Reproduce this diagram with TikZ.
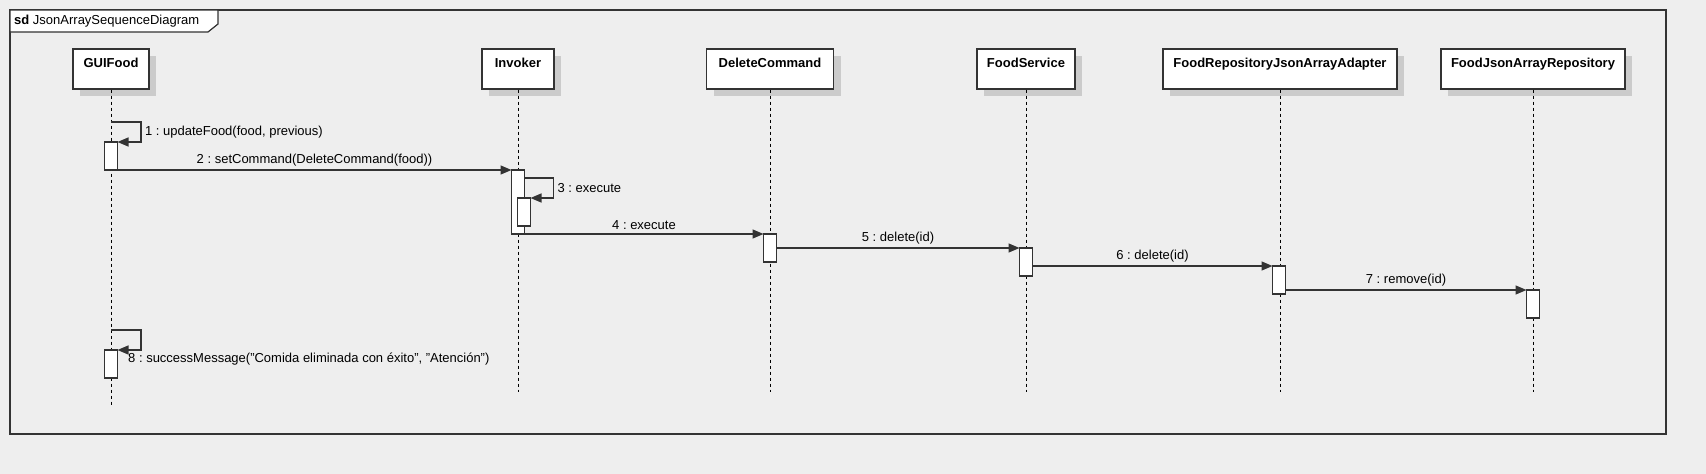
\documentclass[tikz,border=0pt]{standalone}
\usepackage{fontspec}
\setmainfont{Liberation Sans}
\usetikzlibrary{arrows.meta,shadows}
\definecolor{bggray}{HTML}{EEEEEE}
\definecolor{linegray}{HTML}{333333}
\definecolor{shadegray}{HTML}{CBCBCB}
\frenchspacing
\begin{document}
\begin{tikzpicture}[x=1pt, y=-1pt,
    participant/.style={draw=linegray, line width=1.2pt, fill=white,
                        font=\fontsize{13}{15}\selectfont\bfseries,
                        text height=18pt, text depth=22pt, inner ysep=0pt, inner xsep=10pt,
                        drop shadow={shadow xshift=7pt, shadow yshift=-7pt, fill=shadegray, opacity=1}},
    lifeline/.style={draw=black, line width=0.9pt, dash pattern=on 3pt off 3pt},
    bar/.style={draw=linegray, line width=1.2pt, fill=white, minimum width=13pt,
                inner sep=0pt, outer sep=0pt},
    msg/.style={-{Triangle[length=11pt,width=9pt]}, line width=1.4pt, draw=linegray},
    lbl/.style={font=\fontsize{13}{15}\selectfont, text=black},
  ]
    \useasboundingbox (0,0) rectangle (1706,474);
    \fill[bggray] (0,0) rectangle (1706,474);

    % frame and title tab
    \draw[linegray, line width=1.5pt] (10,10) rectangle (1666,434);
    \draw[linegray, line width=1.2pt, fill=white] (10,10) -- (218,10) -- (218,24) -- (208,32) -- (10,32) -- cycle;
    \node[lbl, anchor=west, inner sep=0pt] (title) at (14,21.5) {\textbf{sd} JsonArraySequenceDiagram};

    % participants
    \node[participant, minimum width=76pt]  (gui)  at (111,69)  {GUIFood};
    \node[participant, minimum width=72pt]  (inv)  at (518,69)  {Invoker};
    \node[participant, minimum width=127pt] (dcmd) at (770,69)  {DeleteCommand};
    \node[participant, minimum width=98pt]  (fsrv) at (1026,69) {FoodService};
    \node[participant, minimum width=234pt] (adpt) at (1280,69) {FoodRepositoryJsonArrayAdapter};
    \node[participant, minimum width=184pt] (repo) at (1533,69) {FoodJsonArrayRepository};

    % lifelines
    \coordinate (gui-end)  at (111,405);
    \coordinate (inv-end)  at (518,392);
    \coordinate (dcmd-end) at (770,392);
    \coordinate (fsrv-end) at (1026,392);
    \coordinate (adpt-end) at (1280,392);
    \coordinate (repo-end) at (1533,392);
    \foreach \p in {gui,inv,dcmd,fsrv,adpt,repo}
      \draw[lifeline] (\p) -- (\p-end);

    % activation bars
    \node[bar, minimum height=28pt] (gui-b1)  at (111,156)  {};
    \node[bar, minimum height=64pt] (inv-b1)  at (518,202)  {};
    \node[bar, minimum height=28pt] (inv-b2)  at (524,212)  {};
    \node[bar, minimum height=28pt] (dcmd-b)  at (770,248)  {};
    \node[bar, minimum height=28pt] (fsrv-b)  at (1026,262) {};
    \node[bar, minimum height=28pt] (adpt-b)  at (1279,280) {};
    \node[bar, minimum height=28pt] (repo-b)  at (1533,304) {};
    \node[bar, minimum height=28pt] (gui-b2)  at (111,364)  {};

    % messages
    \coordinate (s1) at (111,122);
    \draw[msg] (s1) -- ++(30,0) |- node[pos=0.25, right, lbl] {1 : updateFood(food, previous)} (gui-b1.north east);
    \draw[msg] (gui-b1.south east) -- node[above, lbl] {2 : setCommand(DeleteCommand(food))} (inv-b1.north west);
    \draw[msg] ([yshift=-8pt]inv-b1.north east) -- ++(29,0) |- node[pos=0.25, right, lbl] {3 : execute} (inv-b2.north east);
    \draw[msg] (inv-b1.south east) -- node[above, lbl] {4 : execute} (dcmd-b.north west);
    \draw[msg] (dcmd-b.east) -- node[above, lbl] {5 : delete(id)} (fsrv-b.north west);
    \draw[msg] (fsrv-b.east |- adpt-b.north) -- node[above, lbl] {6 : delete(id)} (adpt-b.north west);
    \draw[msg] (adpt-b.east |- repo-b.north) -- node[above, lbl] {7 : remove(id)} (repo-b.north west);
    \coordinate (s8) at (111,330);
    \draw[msg] (s8) -- ++(30,0) |- (gui-b2.north east)
      node[lbl, anchor=north west, xshift=8pt, inner sep=2pt] {8 : successMessage("Comida eliminada con éxito", "Atención")};
  \end{tikzpicture}
\end{document}
